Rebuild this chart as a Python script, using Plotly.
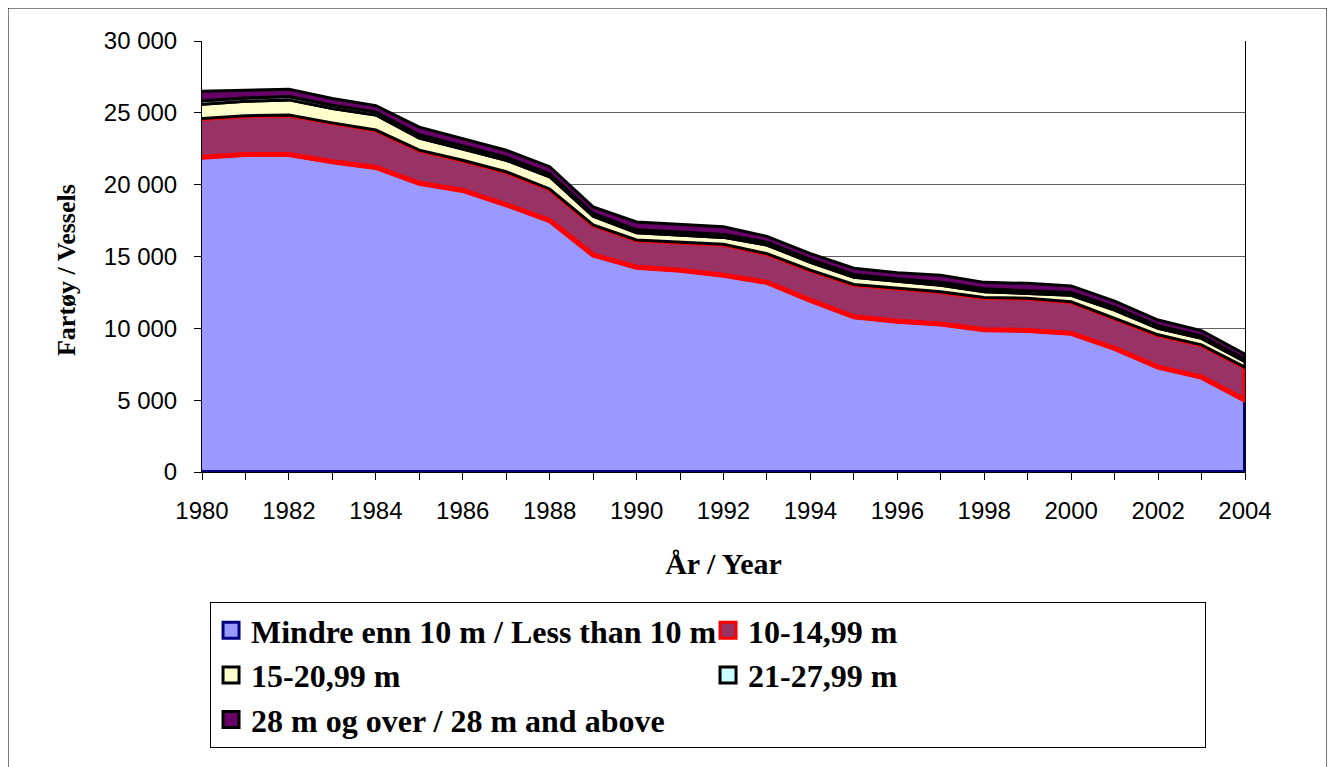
import numpy as np
import plotly.graph_objects as go

years = list(range(1980, 2005))

# number of vessels per length group
under_10 = [21900, 22100, 22100, 21600, 21200, 20100, 19600, 18600, 17500, 15100,
            14250, 14050, 13700, 13200, 11950, 10800, 10500, 10300, 9900, 9850,
            9650, 8600, 7300, 6600, 5000]
m10_15 = [2700, 2700, 2750, 2700, 2600, 2300, 2100, 2300, 2200, 2100,
          1900, 1950, 2150, 2000, 2100, 2250, 2300, 2250, 2250, 2250,
          2200, 2100, 2250, 2250, 2290]
m15_21 = [1000, 1000, 1050, 1000, 1050, 850, 800, 800, 850, 600,
          500, 500, 480, 600, 550, 500, 450, 450, 400, 340,
          450, 570, 450, 450, 390]
m21_28 = [240, 240, 230, 230, 220, 220, 210, 210, 210, 200,
          210, 210, 210, 200, 200, 200, 200, 210, 200, 210,
          200, 200, 190, 180, 170]
m28_plus = [660, 560, 520, 470, 430, 530, 490, 490, 490, 450,
            540, 540, 530, 400, 400, 430, 420, 490, 450, 480,
            450, 430, 390, 360, 350]

names = ["Mindre enn 10 m / Less than 10 m", "10-14,99 m", "15-20,99 m",
         "21-27,99 m", "28 m og over / 28 m and above"]
fills = ["#9999FF", "#993366", "#FFFFCC", "#CCFFFF", "#660066"]
edges = ["#000080", "#FF0000", "#000000", "#000000", "#000000"]
widths = [4, 5, 3, 3, 3]

series = [under_10, m10_15, m15_21, m21_28, m28_plus]
tops = np.cumsum(np.array(series), axis=0)
bottoms = np.vstack([np.zeros(len(years)), tops[:-1]])

fig = go.Figure()
for i in range(len(series)):
    # closed polygon per band, like an Excel stacked area with border
    xs = years + years[::-1]
    ys = list(tops[i]) + list(bottoms[i][::-1])
    fig.add_trace(go.Scatter(x=xs, y=ys, fill="toself", fillcolor=fills[i],
                             mode="lines", line=dict(color=edges[i], width=widths[i]),
                             showlegend=False, hoverinfo="skip"))

# legend entries
for i in range(len(series)):
    fig.add_trace(go.Scatter(x=[None], y=[None], mode="markers", name=names[i],
                             marker=dict(symbol="square", size=16, color=fills[i],
                                         line=dict(color=edges[i], width=3))))

serif = "Times New Roman, Liberation Serif, serif"
sans = "Arial, Liberation Sans, sans-serif"

fig.update_layout(
    width=1327, height=759,
    margin=dict(l=194, r=90, t=33, b=295),
    paper_bgcolor="white", plot_bgcolor="white",
    separators=", ",
    showlegend=True,
    legend=dict(orientation="h", x=0.0077, y=-0.3016, xanchor="left", yanchor="top",
                bordercolor="#000000", borderwidth=1, entrywidth=452,
                itemsizing="trace", tracegroupgap=0,
                font=dict(family=serif, size=32, color="black", weight="bold")),
    xaxis=dict(range=[1980, 2004], dtick=2, tick0=1980, showgrid=False,
               showline=True, linecolor="black", linewidth=1,
               ticks="outside", ticklen=7, tickcolor="black", ticklabelstandoff=10,
               minor=dict(dtick=1, ticks="outside", ticklen=7, tickcolor="black"),
               tickfont=dict(family=sans, size=24, color="black"),
               title=dict(text="År / Year", standoff=30,
                          font=dict(family=serif, size=30, color="black", weight="bold")),
               zeroline=False, automargin=False),
    yaxis=dict(range=[0, 30000], dtick=5000, tickformat=",d",
               showgrid=True, gridcolor="#606060", gridwidth=1,
               showline=True, linecolor="black", linewidth=1, mirror=True,
               ticks="outside", ticklen=7, tickcolor="black", ticklabelstandoff=12,
               tickfont=dict(family=sans, size=24, color="black"),
               zeroline=False, automargin=False),
    annotations=[dict(text="<b>Fartøy / Vessels</b>", textangle=-90,
                      xref="paper", yref="paper", x=-0.1294, y=0.4687,
                      xanchor="center", yanchor="middle", showarrow=False,
                      font=dict(family=serif, size=26, color="black"))],
    shapes=[dict(type="rect", xref="paper", yref="paper",
                 x0=-0.186, x1=1.0786, y0=-0.72, y1=1.0766,
                 line=dict(color="black", width=1), layer="below")],
)

fig.write_html("out.html")
